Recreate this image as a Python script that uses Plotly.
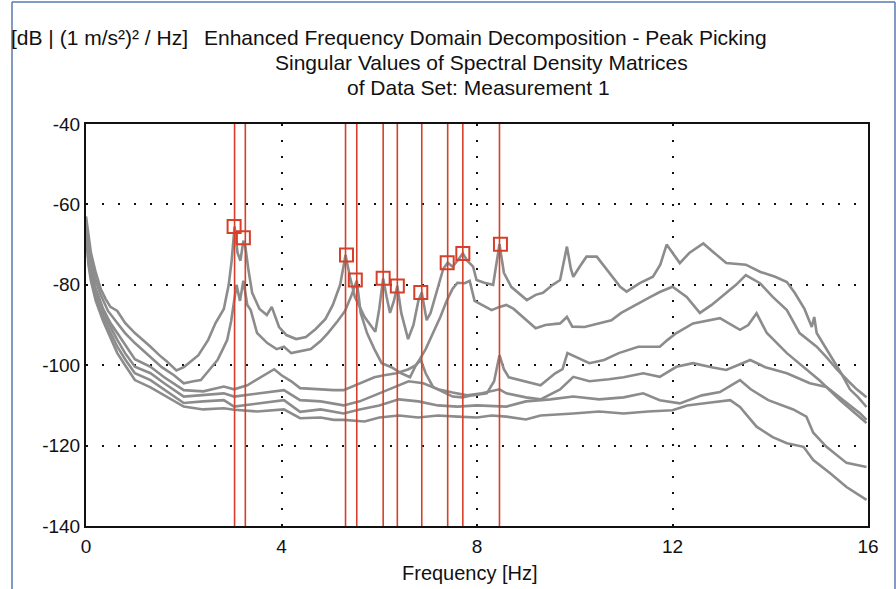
import plotly.graph_objects as go

# ---------------- data ----------------
sv1 = [(0.00,-63),(0.05,-68),(0.10,-72),(0.20,-77),(0.30,-81),(0.40,-83.5),(0.50,-85.5),(0.64,-86.5),
       (0.80,-89.5),(1.00,-92),(1.15,-93.5),(1.32,-95.4),(1.50,-97.5),(1.65,-99),(1.85,-101.3),(2.00,-100.5),
       (2.10,-99.5),(2.30,-97.5),(2.50,-93.7),(2.65,-89.5),(2.82,-86),(2.92,-80),(2.98,-74),(3.04,-65.5),
       (3.10,-72),(3.16,-74),(3.22,-69),(3.26,-70.5),(3.32,-76),(3.40,-82),(3.55,-86),(3.70,-87.5),
       (3.80,-85.5),(3.85,-87),(3.95,-90.5),(4.10,-92.5),(4.30,-93.5),(4.50,-93),(4.70,-91),(4.90,-88.5),
       (5.05,-85),(5.20,-80),(5.31,-72.6),(5.40,-78),(5.50,-83),(5.70,-88),(5.92,-91.7),(6.00,-86),
       (6.08,-78.4),(6.15,-83),(6.22,-87),(6.30,-84),(6.37,-80.3),(6.45,-87),(6.59,-93.5),(6.70,-90),
       (6.80,-84),(6.87,-81.9),(6.97,-88.8),(7.05,-87),(7.15,-83),(7.31,-76),(7.40,-74.5),(7.50,-75.5),
       (7.60,-74),(7.71,-72.2),(7.80,-74),(7.92,-75.5),(7.99,-78.8),(8.15,-79.5),(8.33,-80),(8.40,-75),
       (8.46,-69.9),(8.55,-77),(8.70,-80.5),(9.02,-83.8),(9.20,-82.5),(9.35,-82),(9.55,-80),(9.70,-78.8),
       (9.84,-70.5),(9.92,-76),(9.97,-78),(10.10,-75.5),(10.24,-73),(10.45,-73),(10.66,-76.3),(10.93,-80.5),
       (11.06,-81.7),(11.33,-79.6),(11.60,-78),(11.75,-75),(11.88,-70),(12.00,-72),(12.15,-74.6),(12.35,-72),
       (12.63,-69.7),(12.85,-72),(13.10,-74.6),(13.50,-75),(13.80,-76.8),(14.10,-78),(14.34,-79.3),(14.50,-82),
       (14.70,-86),(14.85,-90.5),(14.90,-88),(14.95,-92),(15.10,-95),(15.29,-98.7),(15.45,-102),(15.63,-106),
       (15.80,-108),(15.97,-110.4)]

sv2 = [(0.00,-64),(0.05,-70),(0.10,-74),(0.20,-79),(0.30,-82.5),(0.45,-86.5),(0.64,-89.5),(0.80,-92),
       (1.00,-94.5),(1.32,-97.9),(1.55,-100.5),(1.80,-102.5),(2.00,-104.5),(2.20,-104),(2.35,-103.7),(2.50,-101.5),
       (2.69,-98.7),(2.80,-96),(2.89,-93.7),(2.97,-89),(3.03,-84),(3.08,-80),(3.15,-84),(3.22,-79),
       (3.30,-85),(3.37,-86.3),(3.50,-92),(3.71,-94.5),(3.90,-96),(4.05,-95.4),(4.20,-97),(4.40,-96.5),
       (4.60,-96),(4.80,-94),(4.95,-92),(5.15,-89),(5.30,-86.5),(5.42,-83),(5.54,-79),(5.62,-87),
       (5.75,-92),(5.90,-96),(6.05,-99.5),(6.25,-100.5),(6.45,-102),(6.63,-103),(6.75,-100),(6.83,-98.5),
       (6.95,-96),(7.10,-92),(7.25,-88),(7.38,-84),(7.50,-81),(7.60,-79.5),(7.75,-79.6),(7.85,-79),
       (7.95,-84),(8.10,-85),(8.30,-86.3),(8.46,-85.5),(8.60,-85),(8.75,-86),(9.02,-88.8),(9.20,-90.8),
       (9.40,-90),(9.70,-89.6),(9.84,-88),(9.95,-90.4),(10.20,-90.5),(10.50,-89.6),(10.75,-88.8),(10.95,-87),
       (11.30,-84.6),(11.55,-83),(11.74,-81.8),(12.00,-80.5),(12.29,-83),(12.56,-87),(12.80,-85),(13.10,-82),
       (13.30,-80),(13.50,-77.6),(13.79,-79.6),(14.05,-83),(14.34,-86.3),(14.60,-92),(14.95,-95.4),(15.15,-98),
       (15.36,-101),(15.60,-104),(15.77,-106),(15.97,-108)]

sv3 = [(0.00,-65),(0.05,-72),(0.10,-76),(0.20,-81),(0.35,-86),(0.50,-89.5),(0.64,-92),(0.80,-95),
       (1.00,-98.5),(1.32,-100.4),(1.60,-103),(2.00,-106.2),(2.40,-106.5),(2.82,-105.3),(3.03,-106),(3.30,-105),
       (3.50,-103.5),(3.70,-102),(3.85,-101),(4.00,-102.5),(4.20,-104),(4.38,-105.7),(4.70,-106),(5.07,-106.2),
       (5.27,-106.2),(5.50,-105),(5.70,-104),(5.90,-103),(6.10,-102.5),(6.35,-102),(6.60,-101),(6.75,-100),
       (6.85,-98.7),(6.95,-102),(7.10,-105.4),(7.30,-106.5),(7.50,-107.8),(7.70,-108),(7.90,-107.5),(8.20,-107),
       (8.35,-104),(8.46,-97.5),(8.55,-101),(8.65,-103),(9.00,-104),(9.30,-105),(9.60,-102),(9.75,-101),
       (9.85,-97),(10.00,-97.9),(10.30,-99.5),(10.60,-98.7),(10.90,-97),(11.30,-95.4),(11.74,-95.4),(11.90,-93.7),
       (12.08,-92),(12.42,-89.6),(12.97,-88.3),(13.38,-91.2),(13.55,-90),(13.72,-87.1),(13.93,-92),(14.34,-97),
       (14.67,-100.4),(15.00,-103.7),(15.43,-108.7),(15.84,-112.9),(15.97,-114.4)]

sv4 = [(0.00,-66),(0.05,-73),(0.10,-77),(0.20,-82),(0.35,-87),(0.50,-90.5),(0.64,-93.7),(0.80,-97),
       (1.00,-100.4),(1.32,-102),(1.60,-104.5),(2.00,-107.8),(2.40,-107.5),(2.82,-107),(3.03,-107.8),(3.50,-107),
       (4.05,-106.2),(4.38,-108.7),(4.80,-109),(5.27,-110),(5.60,-109),(6.00,-107),(6.30,-105.5),(6.60,-104),
       (6.90,-104.5),(7.20,-106),(7.50,-106.8),(7.80,-107.5),(8.10,-107),(8.46,-106),(8.60,-107),(9.00,-108),
       (9.30,-108.5),(9.70,-106),(9.97,-102.9),(10.30,-104),(10.70,-103.5),(11.00,-103),(11.40,-102),(11.74,-102.9),
       (12.08,-100.4),(12.42,-99.5),(12.80,-100.5),(13.10,-101.2),(13.59,-98.7),(13.90,-100.5),(14.34,-102),(14.81,-104.5),
       (15.15,-105.4),(15.49,-108.7),(15.84,-112),(15.97,-113.6)]

sv5 = [(0.00,-66),(0.05,-74),(0.10,-78),(0.20,-83),(0.35,-88),(0.50,-92),(0.64,-95.4),(0.80,-98.5),
       (1.00,-102),(1.32,-103.7),(1.60,-106),(2.00,-109.4),(2.40,-109),(2.82,-108.7),(3.03,-110.3),(3.50,-109.5),
       (4.05,-108.7),(4.38,-111.6),(4.80,-111),(5.27,-112),(5.60,-111),(6.00,-110),(6.40,-108.5),(6.80,-109),
       (7.20,-110),(7.60,-110.3),(8.00,-110),(8.60,-110.3),(9.00,-109),(9.50,-108.5),(9.97,-107.8),(10.50,-108.5),
       (11.00,-108),(11.40,-107),(11.74,-108.7),(12.15,-109.5),(12.60,-107.5),(12.97,-106.7),(13.38,-103.7),(13.60,-106),
       (13.96,-108.7),(14.47,-111),(14.74,-112.8),(14.88,-116.8),(15.15,-120.3),(15.56,-124.3),(15.97,-125.3)]

sv6 = [(0.00,-67),(0.05,-75),(0.10,-79),(0.20,-84),(0.35,-89),(0.50,-93),(0.64,-97),(0.80,-100),
       (1.00,-103.7),(1.32,-105.5),(1.60,-107.5),(2.00,-110.3),(2.40,-111),(2.82,-110.7),(3.03,-111.1),(3.50,-111.5),
       (4.05,-111),(4.38,-113.2),(4.80,-113),(5.07,-113.6),(5.27,-113.6),(5.70,-114),(6.00,-113),(6.40,-112.5),
       (6.80,-113),(7.20,-112.5),(7.60,-112.8),(8.00,-113),(8.30,-112.5),(8.60,-112.8),(9.00,-113.5),(9.30,-112.5),
       (9.97,-112),(10.50,-111.5),(11.00,-112),(11.50,-111.5),(12.00,-111.2),(12.30,-110),(12.70,-109.4),(13.18,-108.7),
       (13.38,-110.4),(13.72,-115.3),(14.05,-117.9),(14.34,-119.4),(14.68,-120.3),(14.88,-123.6),(15.22,-126.8),(15.56,-130.3),
       (15.97,-133.5)]

pick_line_freq = [3.04, 3.26, 5.31, 5.54, 6.08, 6.37, 6.87, 7.40, 7.71, 8.46]
pick_marker_freq = [3.03, 3.22, 5.33, 5.51, 6.08, 6.37, 6.85, 7.39, 7.71, 8.48]
pick_marker_db = [-65.5, -68.3, -72.6, -78.8, -78.4, -80.3, -81.9, -74.5, -72.2, -69.9]

x_ticks = [0, 4, 8, 12, 16]
y_ticks = [-140, -120, -100, -80, -60, -40]

title_unit = "[dB | (1 m/s²)² / Hz]"
title_main = "Enhanced Frequency Domain Decomposition - Peak Picking"
title_sub1 = "Singular Values of Spectral Density Matrices"
title_sub2 = "of Data Set: Measurement 1"
x_title = "Frequency [Hz]"

# ---------------- figure ----------------
W, H = 896, 589
L, R, T, B = 86, 28, 124, 63
pw, ph = W - L - R, H - T - B

def px(xp):
    return (xp - L) / pw

def py(yp):
    return (H - B - yp) / ph

GRAY = "#8c8c8c"
RED = "#d6402a"
FONT = "Liberation Sans, Arial, sans-serif"

fig = go.Figure()

for sv in [sv6, sv5, sv4, sv3, sv2, sv1]:
    fig.add_trace(go.Scatter(x=[p[0] for p in sv], y=[p[1] for p in sv], mode="lines",
                             line=dict(color=GRAY, width=2.6), hoverinfo="skip", showlegend=False))

for f in pick_line_freq:
    fig.add_shape(type="line", xref="x", yref="y", x0=f, x1=f, y0=-140, y1=-40,
                  line=dict(color=RED, width=1.6), layer="above")

fig.add_trace(go.Scatter(x=pick_marker_freq, y=pick_marker_db, mode="markers",
                         marker=dict(symbol="square-open", size=13, color=RED, line=dict(width=2, color=RED)),
                         showlegend=False, hoverinfo="skip"))

# outer thin frame
frame = dict(color="#5a78ad", width=1.5)
fig.add_shape(type="line", xref="paper", yref="paper", x0=px(12), x1=px(12), y0=py(589), y1=py(2), line=frame)
fig.add_shape(type="line", xref="paper", yref="paper", x0=px(12), x1=px(895), y0=py(2), y1=py(2), line=frame)
fig.add_shape(type="line", xref="paper", yref="paper", x0=px(895), x1=px(895), y0=py(589), y1=py(2), line=frame)

ann_font = dict(family=FONT, size=21, color="#111111")
fig.add_annotation(xref="paper", yref="paper", x=px(9), y=py(38), text=title_unit, showarrow=False,
                   xanchor="left", yanchor="middle", font=ann_font)
fig.add_annotation(xref="paper", yref="paper", x=px(769), y=py(38), text=title_main, showarrow=False,
                   xanchor="right", yanchor="middle", font=ann_font)
fig.add_annotation(xref="paper", yref="paper", x=px(481), y=py(63), text=title_sub1, showarrow=False,
                   xanchor="center", yanchor="middle", font=ann_font)
fig.add_annotation(xref="paper", yref="paper", x=px(478), y=py(88), text=title_sub2, showarrow=False,
                   xanchor="center", yanchor="middle", font=ann_font)
fig.add_annotation(xref="paper", yref="paper", x=px(470), y=py(573), text=x_title, showarrow=False,
                   xanchor="center", yanchor="middle", font=dict(family=FONT, size=20, color="#111111"))

axis_common = dict(showline=True, linecolor="#111111", linewidth=2, mirror=True,
                   showgrid=True, gridcolor="#111111", gridwidth=2, griddash="2px,14px",
                   zeroline=False, ticks="", tickfont=dict(family=FONT, size=19, color="#111111"))

fig.update_xaxes(range=[0, 16], tickvals=x_ticks, ticktext=[str(v) for v in x_ticks],
                 ticklabelstandoff=2, **axis_common)
fig.update_yaxes(range=[-140, -40], tickvals=y_ticks, ticktext=[str(v) for v in y_ticks],
                 ticklabelstandoff=0, **axis_common)

fig.update_layout(width=W, height=H, margin=dict(l=L, r=R, t=T, b=B, autoexpand=False),
                  paper_bgcolor="white", plot_bgcolor="white", showlegend=False)

fig.write_html("out.html", config={"displayModeBar": False},
               post_script="document.body.style.margin='0px';")
